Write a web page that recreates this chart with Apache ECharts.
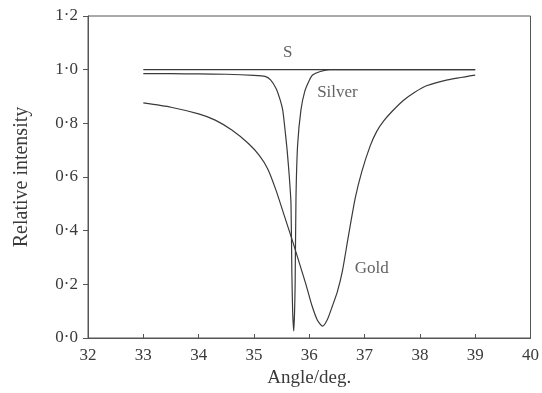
<!DOCTYPE html>
<html><head><meta charset="utf-8">
<script src="https://cdn.jsdelivr.net/npm/echarts@6/dist/echarts.min.js"></script>
<style>html,body{margin:0;padding:0;background:#fff}#c{width:542px;height:393px}</style>
</head><body><div id="c"></div>
<script>
var xTicks = [32,33,34,35,36,37,38,39,40];
var yTicks = ['0·0','0·2','0·4','0·6','0·8','1·0','1·2'];
var sLine = [[33,1.0],[39,1.0]];
var silver = [[33,0.985],[33.5,0.985],[34,0.984],[34.5,0.983],[35,0.979],[35.2,0.975],[35.3,0.962],[35.4,0.93],[35.47,0.89],[35.52,0.85],[35.56,0.78],[35.6,0.70],[35.64,0.60],[35.67,0.50],[35.685,0.25],[35.7,0.10],[35.72,0.026],[35.735,0.10],[35.745,0.2],[35.76,0.52],[35.79,0.72],[35.85,0.85],[35.92,0.92],[36.0,0.96],[36.06,0.98],[36.2,0.993],[36.37,1.0],[37,1.0],[38,1.0],[39,1.0]];
var gold = [[33,0.876],[33.5,0.86],[34,0.835],[34.3,0.812],[34.6,0.775],[34.9,0.725],[35.1,0.68],[35.25,0.63],[35.4,0.55],[35.55,0.455],[35.7,0.36],[35.82,0.28],[35.94,0.20],[36.05,0.12],[36.15,0.065],[36.24,0.044],[36.33,0.07],[36.42,0.12],[36.51,0.174],[36.6,0.25],[36.7,0.37],[36.83,0.52],[36.95,0.62],[37.1,0.715],[37.22,0.77],[37.35,0.81],[37.5,0.845],[37.7,0.885],[37.9,0.915],[38.12,0.94],[38.5,0.962],[39.0,0.98]];
var labels = [{name:'S',value:[35.61,1.063]},{name:'Silver',value:[36.51,0.915]},{name:'Gold',value:[37.13,0.26]}];

var FONT = '"Liberation Serif", "DejaVu Serif", serif';
var INK = '#3a3a3a';
var chart = echarts.init(document.getElementById('c'), null, {renderer:'canvas'});
function lineSeries(name, data){
  return {type:'line', name:name, data:data, showSymbol:false, smooth:0.2,
    lineStyle:{color:INK, width:1.2}, silent:true, animation:false};
}
chart.setOption({
  animation:false,
  grid:{left:88, right:7, top:16, bottom:53, show:true, borderColor:'#555', borderWidth:1, backgroundColor:'transparent'},
  xAxis:{type:'value', min:32, max:40, interval:1,
    name:'Angle/deg.', nameLocation:'middle', nameGap:31,
    nameTextStyle:{fontFamily:FONT, fontSize:19, color:INK},
    axisLine:{show:true, onZero:false, lineStyle:{color:'#555', width:1}},
    axisTick:{show:true, inside:true, length:4, lineStyle:{color:'#555'}},
    axisLabel:{fontFamily:FONT, fontSize:17, color:INK, margin:9,
      formatter:function(v){return xTicks.indexOf(v)>=0 ? String(v) : '';}},
    splitLine:{show:false}},
  yAxis:{type:'value', min:0, max:1.2, interval:0.2,
    name:'Relative intensity', nameLocation:'middle', nameGap:56, nameRotate:90,
    nameTextStyle:{fontFamily:FONT, fontSize:20, color:INK},
    axisLine:{show:true, lineStyle:{color:'#555', width:1}},
    axisTick:{show:true, inside:false, length:5, lineStyle:{color:'#555'}},
    axisLabel:{fontFamily:FONT, fontSize:17, color:INK, margin:10,
      formatter:function(v){var i=Math.round(v/0.2); return yTicks[i]||'';}},
    splitLine:{show:false}},
  series:[
    lineSeries('S', sLine),
    lineSeries('Silver', silver),
    lineSeries('Gold', gold),
    {type:'scatter', data:labels, symbolSize:0, silent:true,
      label:{show:true, position:'inside', formatter:'{b}', fontFamily:FONT, fontSize:17, color:INK}}
  ]
});
</script></body></html>
